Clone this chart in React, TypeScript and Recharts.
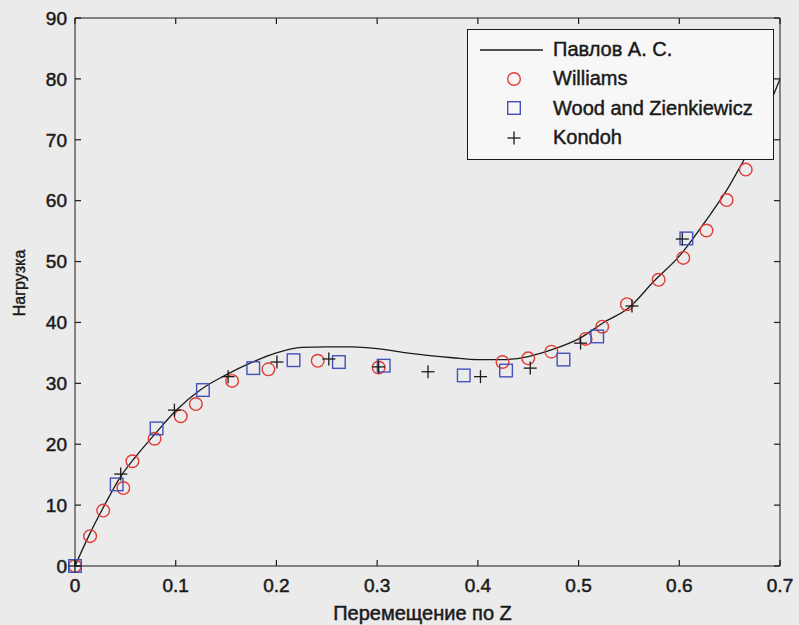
import React from 'react';
import {
  ComposedChart,
  Line,
  Scatter,
  XAxis,
  YAxis,
  Label,
} from 'recharts';

// кривая Павлова А. С.
const pavlovX = [0, 0.015, 0.03, 0.045, 0.06, 0.08, 0.1, 0.125, 0.15, 0.175, 0.2, 0.225, 0.25, 0.275, 0.3, 0.325, 0.35, 0.375, 0.4, 0.425, 0.45, 0.475, 0.5, 0.525, 0.55, 0.575, 0.6, 0.625, 0.65, 0.675, 0.7];
const pavlovY = [0, 5.4, 10.2, 14.6, 17.9, 21.8, 25.5, 29.0, 31.4, 33.4, 35.0, 35.9, 36.0, 36.0, 35.7, 35.1, 34.6, 34.2, 33.9, 33.9, 34.4, 35.6, 37.3, 40.0, 42.4, 46.8, 50.9, 56.4, 62.5, 70.3, 80];

const williamsX = [0, 0.015, 0.028, 0.048, 0.057, 0.079, 0.105, 0.12, 0.156, 0.192, 0.241, 0.3015, 0.4245, 0.45, 0.473, 0.507, 0.5235, 0.548, 0.5795, 0.604, 0.627, 0.647, 0.666];
const williamsY = [0, 4.9, 9.1, 12.8, 17.2, 20.9, 24.6, 26.6, 30.4, 32.3, 33.7, 32.6, 33.5, 34.1, 35.2, 37.3, 39.3, 43.0, 47.0, 50.6, 55.1, 60.1, 65.1];

const woodX = [0, 0.0414, 0.081, 0.127, 0.177, 0.217, 0.262, 0.3065, 0.386, 0.428, 0.485, 0.5185, 0.607];
const woodY = [0, 13.4, 22.6, 28.9, 32.5, 33.8, 33.5, 32.9, 31.3, 32.1, 33.9, 37.7, 53.8];

const kondohX = [0, 0.0454, 0.0987, 0.152, 0.2005, 0.252, 0.3015, 0.3505, 0.4026, 0.452, 0.502, 0.553, 0.603];
const kondohY = [0, 15.1, 25.6, 31.1, 33.5, 34.0, 32.7, 31.9, 31.1, 32.5, 36.6, 42.7, 53.7];

const xTicks = [0, 0.1, 0.2, 0.3, 0.4, 0.5, 0.6, 0.7];
const yTicks = [0, 10, 20, 30, 40, 50, 60, 70, 80, 90];

const seriesNames = ['Павлов А. С.', 'Williams', 'Wood and Zienkiewicz', 'Kondoh'];

const zip = (xs: number[], ys: number[]) => xs.map((x, i) => ({ x, y: ys[i] }));

const pavlov = zip(pavlovX, pavlovY);
const williams = zip(williamsX, williamsY);
const wood = zip(woodX, woodY);
const kondoh = zip(kondohX, kondohY);

const FONT = '"Liberation Sans", Arial, sans-serif';
const INK = '#1a1a1a';
const RED = '#e23b35';
const BLUE = '#4352b8';
const TICK_LEN = 6;

const CircleMark = ({ cx, cy }: any) => (
  <circle cx={cx} cy={cy} r={6.3} fill="none" stroke={RED} strokeWidth={1.4} />
);

const SquareMark = ({ cx, cy }: any) => (
  <rect x={cx - 6.3} y={cy - 6.3} width={12.6} height={12.6} fill="none" stroke={BLUE} strokeWidth={1.4} />
);

const PlusMark = ({ cx, cy }: any) => (
  <g stroke={INK} strokeWidth={1.3}>
    <line x1={cx - 6.5} y1={cy} x2={cx + 6.5} y2={cy} />
    <line x1={cx} y1={cy - 6.5} x2={cx} y2={cy + 6.5} />
  </g>
);

// тики внутрь, как в MATLAB
const InTick = ({ x, y, payload, side, gap, label }: any) => {
  let line;
  let text = null;
  const t = { fontSize: 19, fill: INK, fontFamily: FONT, stroke: INK, strokeWidth: 0.5 };
  if (side === 'bottom') {
    const ay = y - gap;
    line = <line x1={x} y1={ay} x2={x} y2={ay - TICK_LEN} stroke={INK} strokeWidth={1.2} />;
    if (label) text = <text x={x} y={y} dy="0.71em" textAnchor="middle" {...t}>{payload.value}</text>;
  } else if (side === 'left') {
    const ax = x + gap;
    line = <line x1={ax} y1={y} x2={ax + TICK_LEN} y2={y} stroke={INK} strokeWidth={1.2} />;
    if (label) text = <text x={x} y={y} dy="0.355em" textAnchor="end" {...t}>{payload.value}</text>;
  } else if (side === 'top') {
    line = <line x1={x} y1={y} x2={x} y2={y + TICK_LEN} stroke={INK} strokeWidth={1.2} />;
  } else {
    line = <line x1={x} y1={y} x2={x - TICK_LEN} y2={y} stroke={INK} strokeWidth={1.2} />;
  }
  return (
    <g>
      {line}
      {text}
    </g>
  );
};

const LegendIcon = ({ index }: { index: number }) => (
  <svg width={64} height={20}>
    {index === 0 && <line x1={0} y1={10} x2={63} y2={10} stroke={INK} strokeWidth={1.3} />}
    {index === 1 && <CircleMark cx={34} cy={10} />}
    {index === 2 && <SquareMark cx={34} cy={10} />}
    {index === 3 && <PlusMark cx={34} cy={10} />}
  </svg>
);

export default function App() {
  return (
    <div style={{ position: 'absolute', left: 0, top: 0, width: 799, height: 625, background: '#ebebeb' }}>
      <ComposedChart
        width={799}
        height={625}
        margin={{ top: 17, right: 18, bottom: 0, left: 0 }}
      >
        <XAxis
          dataKey="x"
          type="number"
          domain={[0, 0.7]}
          ticks={xTicks}
          height={59}
          tickSize={0}
          tickMargin={13}
          tickLine={false}
          stroke={INK}
          tick={<InTick side="bottom" gap={13} label />}
          interval={0}
        >
          <Label
            content={({ viewBox }: any) => (
              <text
                x={viewBox.x + viewBox.width / 2 - 5}
                y={viewBox.y + viewBox.height - 5}
                textAnchor="middle"
                fontSize={20}
                fontFamily={FONT}
                fill={INK}
                stroke={INK}
                strokeWidth={0.5}
              >
                Перемещение по Z
              </text>
            )}
          />
        </XAxis>
        <XAxis
          xAxisId="top"
          dataKey="x"
          orientation="top"
          type="number"
          domain={[0, 0.7]}
          ticks={xTicks}
          height={1}
          tickSize={0}
          tickMargin={0}
          tickLine={false}
          tick={<InTick side="top" />}
          stroke={INK}
          interval={0}
        />
        <YAxis
          dataKey="y"
          type="number"
          domain={[0, 90]}
          ticks={yTicks}
          width={75}
          tickSize={0}
          tickMargin={8}
          tickLine={false}
          stroke={INK}
          tick={<InTick side="left" gap={8} label />}
          interval={0}
        >
          <Label
            content={({ viewBox }: any) => {
              const lx = viewBox.x + 25;
              const ly = viewBox.y + viewBox.height / 2 - 9;
              return (
                <text
                  x={lx}
                  y={ly}
                  transform={`rotate(-90, ${lx}, ${ly})`}
                  textAnchor="middle"
                  fontSize={16}
                  fontFamily={FONT}
                  fill={INK}
                  stroke={INK}
                  strokeWidth={0.4}
                >
                  Нагрузка
                </text>
              );
            }}
          />
        </YAxis>
        <YAxis
          yAxisId="right"
          dataKey="y"
          orientation="right"
          type="number"
          domain={[0, 90]}
          ticks={yTicks}
          width={1}
          tickSize={0}
          tickMargin={0}
          tickLine={false}
          tick={<InTick side="right" />}
          stroke={INK}
          interval={0}
        />
        <Line
          data={pavlov}
          xAxisId="top"
          yAxisId="right"
          dataKey="y"
          type="monotone"
          stroke={INK}
          strokeWidth={1.3}
          dot={false}
          activeDot={false}
          isAnimationActive={false}
        />
        <Scatter data={williams} shape={<CircleMark />} isAnimationActive={false} />
        <Scatter data={wood} shape={<SquareMark />} isAnimationActive={false} />
        <Scatter data={kondoh} shape={<PlusMark />} isAnimationActive={false} />
      </ComposedChart>

      {/* легенда */}
      <div
        style={{
          position: 'absolute',
          left: 467,
          top: 29,
          width: 305,
          height: 124,
          background: '#f7f7f7',
          border: `1px solid ${INK}`,
          paddingTop: 5,
          boxSizing: 'content-box',
          fontFamily: FONT,
          fontSize: 20,
          color: INK,
          WebkitTextStroke: '0.45px #1a1a1a',
        }}
      >
        {seriesNames.map((name, i) => (
          <div key={name} style={{ display: 'flex', alignItems: 'center', height: 29.3, paddingLeft: 12 }}>
            <LegendIcon index={i} />
            <span style={{ marginLeft: 9, whiteSpace: 'nowrap' }}>{name}</span>
          </div>
        ))}
      </div>
    </div>
  );
}
